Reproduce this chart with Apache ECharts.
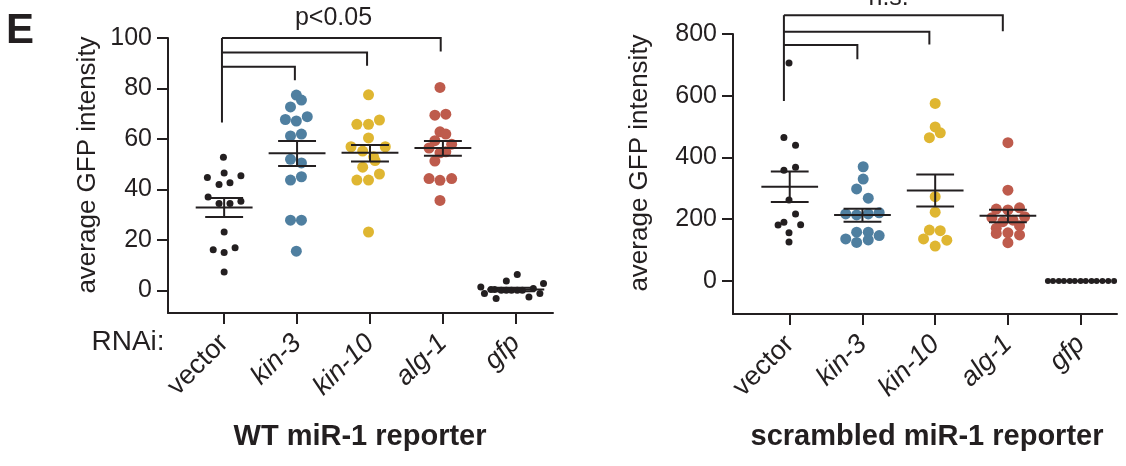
<!DOCTYPE html>
<html>
<head>
<meta charset="utf-8">
<script src="https://cdn.jsdelivr.net/npm/echarts@6/dist/echarts.min.js"></script>
<style>
html, body { margin: 0; padding: 0; background: #fff; }
#chart { width: 1126px; height: 466px; }
</style>
</head>
<body>
<div id="chart"></div>
<script>
var categories = ['vector', 'kin-3', 'kin-10', 'alg-1', 'gfp'];
var yTicksWt = [0, 20, 40, 60, 80, 100];
var yTicksScr = [0, 200, 400, 600, 800];

// WT miR-1 reporter: one list per RNAi group, same order as categories
var wtValues = [
  [52.7, 44.7, 46.5, 45.4, 41.9, 42.6, 37.0, 34.4, 34.4, 35.3, 23.1, 16.1, 15.0, 16.9, 7.3],
  [77.4, 75.4, 72.7, 67.7, 67.1, 68.8, 61.2, 61.9, 51.9, 50.5, 43.7, 45.0, 27.8, 27.8, 15.5],
  [77.5, 65.8, 65.8, 67.5, 60.4, 56.9, 56.9, 55.2, 52.9, 51.4, 48.8, 46.1, 43.7, 43.7, 23.1],
  [80.4, 69.4, 69.8, 62.8, 61.9, 59.3, 57.9, 56.4, 54.5, 54.9, 51.2, 44.3, 43.6, 44.3, 35.6],
  [1.3, -1.3, 0.3, 0.3, -3.3, 3.7, 6.3, 0, 0, 0, 0, 0, -2.7, 0.7, -1.3, 2.7]
];
// horizontal spread of the dots (category units)
var wtJitter = [
  [-0.01, -0.23, 0, 0.23, -0.07, 0.08, -0.22, -0.07, 0.08, 0.23, 0, -0.15, 0, 0.15, 0],
  [-0.01, 0.06, -0.09, -0.16, -0.01, 0.14, -0.09, 0.06, -0.09, 0.06, -0.09, 0.06, -0.09, 0.06, -0.01],
  [-0.02, -0.18, -0.02, 0.13, -0.02, -0.26, 0.21, -0.1, 0.05, 0.07, -0.1, 0.13, -0.18, -0.02, -0.02],
  [-0.04, -0.11, 0.04, -0.04, 0.04, -0.11, 0.12, -0.19, -0.04, 0.04, -0.11, -0.19, -0.04, 0.12, -0.04],
  [-0.48, -0.43, -0.34, -0.29, -0.27, -0.13, 0.02, -0.2, -0.13, -0.06, 0.02, 0.09, 0.18, 0.24, 0.33, 0.38]
];
var wtMean = [32.8, 54.3, 54.5, 56.4, 0.3];
var wtSemLo = [29.1, 49.3, 51.0, 53.3, -0.4];
var wtSemHi = [36.6, 59.2, 57.6, 59.2, 1.0];

// scrambled miR-1 reporter
var scrValues = [
  [706, 465, 440, 359, 368, 262, 217, 190, 181, 182, 156, 126],
  [370, 330, 298, 268, 217, 214, 217, 221, 158, 158, 147, 136, 125, 133],
  [575, 499, 480, 464, 273, 223, 165, 163, 136, 132, 113],
  [448, 294, 233, 230, 237, 205, 192, 197, 208, 171, 179, 154, 156, 149, 124],
  [0, 0, 0, 0, 0, 0, 0, 0, 0, 0, 0, 0, 0]
];
var scrJitter = [
  [-0.01, -0.08, 0.08, -0.08, 0.08, -0.01, 0.08, -0.08, -0.16, 0.15, -0.01, -0.01],
  [0.01, 0.01, -0.08, 0.08, -0.23, -0.08, 0.08, 0.23, -0.08, 0.08, 0.23, -0.23, -0.08, 0.08],
  [0, 0, 0.07, -0.08, 0, 0, -0.08, 0.07, -0.16, 0.16, 0],
  [0, 0, -0.16, 0, 0.16, -0.22, -0.07, 0.07, 0.23, -0.16, 0.16, -0.16, 0, 0.16, 0],
  [-0.45, -0.38, -0.3, -0.23, -0.15, -0.08, 0, 0.07, 0.15, 0.22, 0.3, 0.38, 0.46]
];
var scrMean = [305, 214, 293, 211, 0];
var scrSemLo = [256, 192, 241, 190, 0];
var scrSemHi = [355, 234, 345, 231, 0];

// comparison brackets: [x from, x to, y of bar, y where the right leg ends]
var wtBrackets = [[-0.03, 2.97, 100, 94.6], [-0.03, 1.96, 94.3, 89], [-0.03, 0.97, 88.6, 83.3]];
var wtStemBottom = 66.5;
var scrBrackets = [[-0.08, 2.93, 861, 809], [-0.08, 1.92, 807, 766], [-0.08, 0.93, 764, 718]];
var scrStemBottom = 583;

var ink = '#231f20';
var groupColors = [ink, '#4f7fa0', '#dfb631', '#be5b4c', ink];
var groupSizes = [7, 11, 11, 11, 7];
var font = 'Liberation Sans, Arial, Helvetica, sans-serif';

var chart = echarts.init(document.getElementById('chart'));

function xAxisFor(gi, min, max) {
  return {
    gridIndex: gi, type: 'value', min: min, max: max,
    splitLine: { show: false },
    axisLine: { show: true, onZero: false, lineStyle: { color: ink, width: 2 } },
    axisTick: { show: true, customValues: [0, 1, 2, 3, 4], length: 11, lineStyle: { color: ink, width: 2 } },
    axisLabel: {
      customValues: [0, 1, 2, 3, 4], rotate: 45, margin: 26,
      formatter: function (v) {
        var name = categories[Math.round(v)];
        return Math.round(v) === 0 ? '{n|' + name + '}' : '{i|' + name + '}';
      },
      rich: {
        n: { fontSize: 27, fontFamily: font, color: ink },
        i: { fontSize: 27, fontFamily: font, color: ink, fontStyle: 'italic' }
      }
    }
  };
}

function yAxisFor(gi, min, max, ticks) {
  return {
    gridIndex: gi, type: 'value', min: min, max: max,
    splitLine: { show: false },
    axisLine: { show: true, onZero: false, lineStyle: { color: ink, width: 2 } },
    axisTick: { show: true, customValues: ticks, length: 11, lineStyle: { color: ink, width: 2 } },
    axisLabel: { customValues: ticks, margin: 16, fontSize: 25, fontFamily: font, color: ink }
  };
}

function dotSeries(values, jitter, gi) {
  return values.map(function (vals, i) {
    return {
      type: 'scatter', xAxisIndex: gi, yAxisIndex: gi,
      symbolSize: gi === 1 && i === 4 ? 6 : groupSizes[i],
      itemStyle: { color: groupColors[i], opacity: 1 },
      z: 2,
      data: vals.map(function (v, k) { return [i + jitter[i][k], v]; })
    };
  });
}

function meanSeries(mean, lo, hi, gi) {
  return {
    type: 'custom', xAxisIndex: gi, yAxisIndex: gi, z: 5,
    data: mean.map(function (m, i) { return [i, m, lo[i], hi[i]]; }),
    renderItem: function (params, api) {
      var x = api.value(0);
      var c = api.coord([x, api.value(1)]);
      var cl = api.coord([x, api.value(2)]);
      var ch = api.coord([x, api.value(3)]);
      var w = api.size([1, 0])[0];
      var half = w * 0.39, cap = w * 0.26;
      var st = { stroke: ink, lineWidth: 2 };
      return {
        type: 'group', children: [
          { type: 'line', shape: { x1: c[0] - half, y1: c[1], x2: c[0] + half, y2: c[1] }, style: st },
          { type: 'line', shape: { x1: ch[0], y1: ch[1], x2: cl[0], y2: cl[1] }, style: st },
          { type: 'line', shape: { x1: ch[0] - cap, y1: ch[1], x2: ch[0] + cap, y2: ch[1] }, style: st },
          { type: 'line', shape: { x1: cl[0] - cap, y1: cl[1], x2: cl[0] + cap, y2: cl[1] }, style: st }
        ]
      };
    }
  };
}

function bracketSeries(brackets, stemBottom, text, textX, textY, gi) {
  return {
    type: 'custom', xAxisIndex: gi, yAxisIndex: gi, z: 5, clip: false,
    data: [0],
    renderItem: function (params, api) {
      var st = { stroke: ink, lineWidth: 2, fill: null };
      var kids = [];
      var b0 = brackets[0];
      var s1 = api.coord([b0[0], stemBottom]);
      var s2 = api.coord([b0[0], b0[2]]);
      kids.push({ type: 'line', shape: { x1: s1[0], y1: s1[1], x2: s2[0], y2: s2[1] }, style: st });
      brackets.forEach(function (b) {
        var p1 = api.coord([b[0], b[2]]);
        var p2 = api.coord([b[1], b[2]]);
        var p3 = api.coord([b[1], b[3]]);
        kids.push({ type: 'polyline', shape: { points: [p1, p2, p3] }, style: st });
      });
      var t = api.coord([textX, textY]);
      kids.push({
        type: 'text', x: t[0], y: t[1],
        style: { text: text, fill: ink, font: '25px ' + font, textAlign: 'center', textVerticalAlign: 'middle' }
      });
      return { type: 'group', children: kids };
    }
  };
}

var option = {
  animation: false,
  backgroundColor: '#fff',
  grid: [
    { left: 168, right: 573, top: 38, bottom: 153, outerBoundsMode: 'none' },
    { left: 733, right: 9, top: 34, bottom: 152, outerBoundsMode: 'none' }
  ],
  xAxis: [xAxisFor(0, -0.77, 4.51), xAxisFor(1, -0.78, 4.5)],
  yAxis: [yAxisFor(0, -9, 100, yTicksWt), yAxisFor(1, -107, 800, yTicksScr)],
  graphic: [
    { type: 'text', x: 20, y: 31, style: { text: 'E', font: 'bold 42px ' + font, fill: ink, textAlign: 'center', textVerticalAlign: 'middle' } },
    { type: 'text', x: 88, y: 165, rotation: Math.PI / 2, style: { text: 'average GFP intensity', font: '26px ' + font, fill: ink, textAlign: 'center', textVerticalAlign: 'middle' } },
    { type: 'text', x: 640, y: 163, rotation: Math.PI / 2, style: { text: 'average GFP intensity', font: '26px ' + font, fill: ink, textAlign: 'center', textVerticalAlign: 'middle' } },
    { type: 'text', x: 128, y: 342, style: { text: 'RNAi:', font: '28px ' + font, fill: ink, textAlign: 'center', textVerticalAlign: 'middle' } },
    { type: 'text', x: 360, y: 437, style: { text: 'WT miR-1 reporter', font: 'bold 29px ' + font, fill: ink, textAlign: 'center', textVerticalAlign: 'middle' } },
    { type: 'text', x: 927, y: 437, style: { text: 'scrambled miR-1 reporter', font: 'bold 29px ' + font, fill: ink, textAlign: 'center', textVerticalAlign: 'middle' } }
  ],
  series: []
    .concat(dotSeries(wtValues, wtJitter, 0))
    .concat(dotSeries(scrValues, scrJitter, 1))
    .concat([
      meanSeries(wtMean, wtSemLo, wtSemHi, 0),
      meanSeries(scrMean, scrSemLo, scrSemHi, 1),
      bracketSeries(wtBrackets, wtStemBottom, 'p<0.05', 1.5, 107.8, 0),
      bracketSeries(scrBrackets, scrStemBottom, 'n.s.', 1.36, 915, 1)
    ])
};

chart.setOption(option);
</script>
</body>
</html>
